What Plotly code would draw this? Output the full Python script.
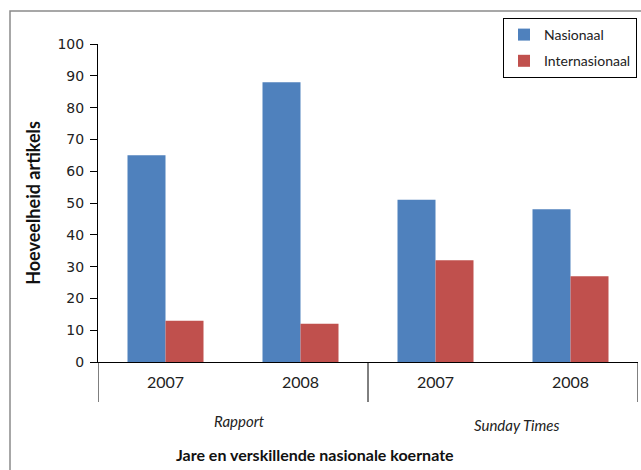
import plotly.graph_objects as go

years = ["2007", "2008", "2007", "2008"]
papers = ["Rapport", "Sunday Times"]
nasionaal = [65, 88, 51, 48]
internasionaal = [13, 12, 32, 27]
series_names = ["Nasionaal", "Internasionaal"]

xpos = list(range(len(years)))

fig = go.Figure()
fig.add_trace(go.Bar(x=xpos, y=nasionaal, name=series_names[0], legendgroup="a",
                     marker=dict(color="#4F81BD", line=dict(width=0))))
fig.add_trace(go.Bar(x=xpos, y=internasionaal, name=series_names[1], legendgroup="b",
                     marker=dict(color="#C0504D", line=dict(width=0))))

L, T, W, H = 98, 44, 540, 318

def py(p):
    return (T + H - p) / H

def px(p):
    return (p - L) / W

shapes = []
# group separators
for xv in [-0.5, 1.5, 3.5]:
    shapes.append(dict(type="line", xref="x", yref="paper", x0=xv, x1=xv,
                       y0=0, y1=py(402), line=dict(color="black", width=1)))
# outer frame
shapes.append(dict(type="rect", xref="paper", yref="paper",
                   x0=px(10), x1=px(700), y0=py(520), y1=py(11),
                   line=dict(color="#8a8a8a", width=1.5)))

annotations = [
    dict(text="<i>Rapport</i>", x=0.55, y=py(421), xref="x", yref="paper",
         showarrow=False, font=dict(family="Lato", size=15, color="#222"),
         xanchor="center", yanchor="middle"),
    dict(text="<i>Sunday Times</i>", x=2.6, y=py(425), xref="x", yref="paper",
         showarrow=False, font=dict(family="Lato", size=15, color="#222"),
         xanchor="center", yanchor="middle"),
    dict(text="<b>Jare en verskillende nasionale koernate</b>", x=px(315), y=py(454),
         xref="paper", yref="paper", showarrow=False,
         font=dict(family="Lato", size=16, color="#111"),
         xanchor="center", yanchor="middle"),
]

fig.update_layout(
    width=641, height=470,
    margin=dict(l=L, r=641 - L - W, t=T, b=470 - T - H, autoexpand=False),
    paper_bgcolor="white", plot_bgcolor="white",
    barmode="group", bargap=0.437, bargroupgap=0,
    font=dict(family="Lato", color="#222"),
    showlegend=True,
    legend=dict(x=px(503), y=py(18), xanchor="left", yanchor="top",
                bordercolor="black", borderwidth=1, bgcolor="white",
                font=dict(family="Lato", size=14, color="#222"),
                itemwidth=30, traceorder="grouped", tracegroupgap=5),
    xaxis=dict(range=[-0.5, 3.5], tickmode="array", tickvals=xpos, ticktext=years,
               showline=True, linecolor="black", linewidth=1, ticks="",
               showgrid=False, zeroline=False, automargin=False,
               tickfont=dict(family="Lato", size=16, color="#222"),
               ticklabelstandoff=6),
    yaxis=dict(range=[0, 100], tickmode="linear", dtick=10, ticks="outside",
               ticklen=7, tickcolor="black", showline=True, linecolor="black",
               linewidth=1, showgrid=False, zeroline=False, automargin=False,
               ticklabelstandoff=3,
               tickfont=dict(family="DejaVu Sans", size=14, color="#222"),
               title=dict(text="<b>Hoeveelheid artikels</b>", standoff=12,
                          font=dict(family="Lato", size=18, color="#111"))),
    shapes=shapes,
    annotations=annotations,
)

fig.write_html("out.html", config={"displayModeBar": False},
               post_script="document.body.style.margin='0px';")
